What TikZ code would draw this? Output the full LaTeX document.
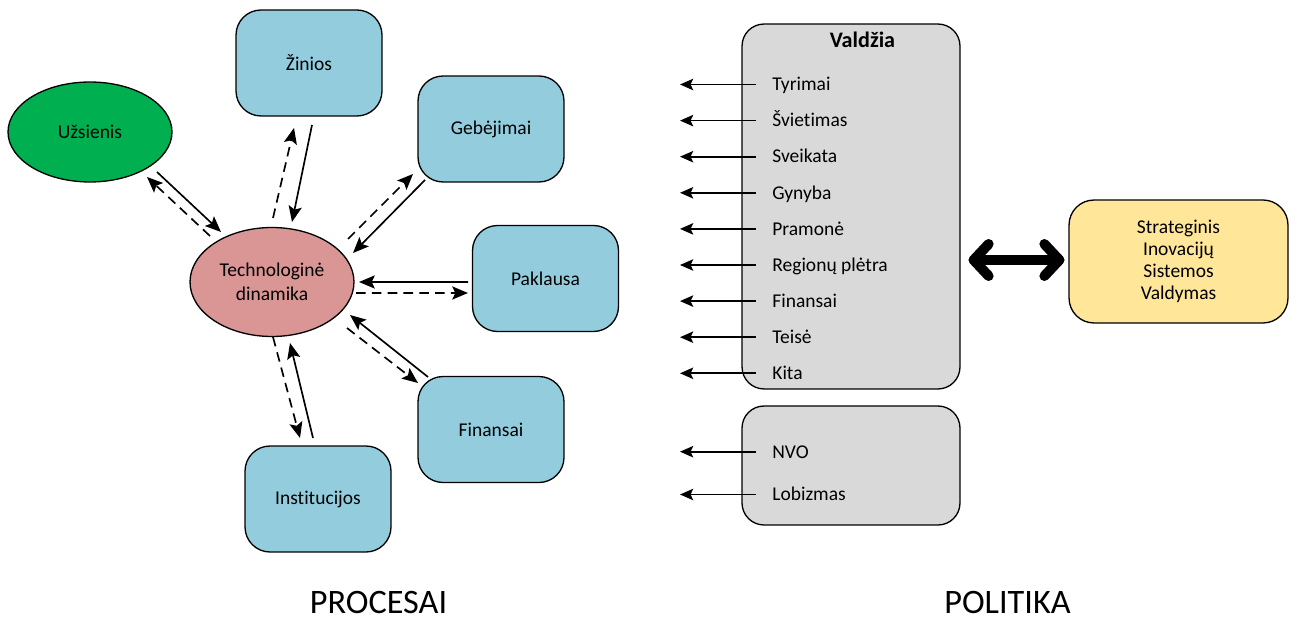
\documentclass[tikz,border=0pt]{standalone}
\usepackage{fontspec}
\setmainfont{Carlito}[RawFeature={-liga;-dlig;-clig}]
\usetikzlibrary{arrows.meta,shapes.geometric}
\definecolor{boxblue}{HTML}{93CDDD}
\definecolor{uzgreen}{HTML}{00B050}
\definecolor{techpink}{HTML}{D99694}
\definecolor{govgrey}{HTML}{D9D9D9}
\definecolor{stryellow}{HTML}{FFE699}
\begin{document}
\begin{tikzpicture}[x=0.02cm,y=-0.02cm,
  every node/.style={font=\fontsize{11.1}{13.5}\selectfont},
  bluebox/.style={draw=black,line width=0.75pt,fill=boxblue,rounded corners=0.5cm,
    minimum width=2.92cm,minimum height=2.12cm,inner sep=0pt,align=center},
  ell/.style={ellipse,draw=black,line width=0.75pt,inner sep=0pt,align=center},
  greybox/.style={draw=black,line width=0.75pt,fill=govgrey,rounded corners=0.44cm,
    minimum width=4.36cm,inner sep=0pt},
  solidarr/.style={line width=0.95pt,-{Stealth[length=9pt,width=7.5pt,inset=1.8pt]}},
  dasharr/.style={solidarr,dash pattern=on 5.5pt off 3.5pt},
  sidearr/.style={line width=1pt,-{Stealth[length=7.5pt,width=6.5pt,inset=1.5pt]}},
  lab/.style={anchor=base west,inner sep=0pt},
  bigline/.style={line width=0.2cm,line cap=round,line join=round},
  caption/.style={font=\fontsize{19.5}{22}\selectfont,inner sep=0pt}
]
\useasboundingbox (0,0) rectangle (1297,621);

% ---------- left part: processes ----------
\node[ell,fill=uzgreen,minimum width=3.28cm,minimum height=2.0cm] (uz) at (90,132) {Užsienis};
\node[ell,fill=techpink,minimum width=3.28cm,minimum height=2.18cm] (tech) at (272,282) {Technologinė\\dinamika};
\node[bluebox] (zin) at (309,63) {Žinios};
\node[bluebox] (geb) at (491,129) {Gebėjimai};
\node[bluebox] (pak) at (545.5,278.5) {Paklausa};
\node[bluebox] (fin) at (491,429.5) {Finansai};
\node[bluebox] (ins) at (318,499) {Institucijos};

% Užsienis
\draw[solidarr] ([shift={(67,40)}]uz.center) -- ([shift={(-51,-50)}]tech.center);
\draw[dasharr] ([shift={(-62,-46)}]tech.center) -- ([shift={(57,45)}]uz.center);
% Žinios
\draw[dasharr] ([shift={(1,-64)}]tech.center) -- ([shift={(-15,65)}]zin.center);
\draw[solidarr] ([shift={(3,62)}]zin.center) -- ([shift={(20,-60)}]tech.center);
% Gebėjimai
\draw[dasharr] ([shift={(76,-43)}]tech.center) -- ([shift={(-78,45)}]geb.center);
\draw[solidarr] ([shift={(-66,51)}]geb.center) -- ([shift={(81,-29)}]tech.center);
% Paklausa
\draw[solidarr] ([shift={(-77.5,3.5)}]pak.center) -- ([shift={(87,0)}]tech.center);
\draw[dasharr] ([shift={(84,11)}]tech.center) -- ([shift={(-77.5,14.5)}]pak.center);
% Finansai
\draw[solidarr] ([shift={(-63,-52.5)}]fin.center) -- ([shift={(78,33)}]tech.center);
\draw[dasharr] ([shift={(75,46)}]tech.center) -- ([shift={(-73,-46.5)}]fin.center);
% Institucijos
\draw[dasharr] ([shift={(1,55)}]tech.center) -- ([shift={(-18,-61)}]ins.center);
\draw[solidarr] ([shift={(-5,-61)}]ins.center) -- ([shift={(18,61)}]tech.center);

\node[caption] (proc) at (378.5,602.5) {PROCESAI};

% ---------- right part: politics ----------
\node[greybox,minimum height=7.3cm] (vald) at (851,206.5) {};
\node[inner sep=0pt,font=\fontsize{12.6}{15}\selectfont\bfseries] (valdt) at (862.5,39.5) {Valdžia};
\node[greybox,minimum height=2.38cm] (nvo) at (851,465.5) {};

\foreach \i/\t/\y in {1/Tyrimai/84.5, 2/Švietimas/120.6, 3/Sveikata/156.7, 4/Gynyba/192.8,
    5/Pramonė/228.9, 6/Regionų plėtra/265, 7/Finansai/301.1, 8/Teisė/337.2, 9/Kita/373.3,
    10/NVO/451.7, 11/Lobizmas/494.5}{
  \node[lab] (l\i) at (772,\y+6.3) {\t};
  \coordinate (a\i) at (680,\y);
  \path (l\i.west |- a\i) ++(-16,0) coordinate (s\i);
  \draw[sidearr] (s\i) -- (a\i);
}

\node[draw=black,line width=0.75pt,fill=stryellow,rounded corners=0.5cm,
  minimum width=4.38cm,minimum height=2.46cm,inner sep=0pt,align=center,
  font=\fontsize{11.1}{12.6}\selectfont] (strat) at (1178.5,261.5)
  {Strateginis\\Inovacijų\\Sistemos\\Valdymas};

\path (vald.east |- strat.west) ++(13,-1.5) coordinate (dA);
\path (strat.west) ++(-9,-1.5) coordinate (dB);
\draw[bigline] (dA) -- (dB);
\draw[bigline] ([shift={(15,-16)}]dA) -- (dA) -- ([shift={(15,16)}]dA);
\draw[bigline] ([shift={(-15,-16)}]dB) -- (dB) -- ([shift={(-15,16)}]dB);

\node[caption] (pol) at (1007.5,602) {POLITIKA};
\end{tikzpicture}
\end{document}
